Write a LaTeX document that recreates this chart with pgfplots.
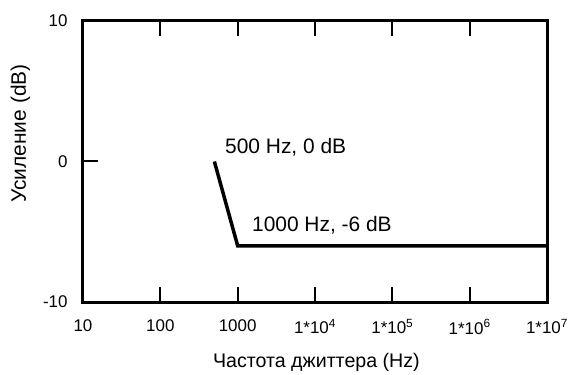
\documentclass[border=0pt]{standalone}
\usepackage{fontspec}
\setmainfont{Liberation Sans}
\usepackage{pgfplots}
\pgfplotsset{compat=1.18}
\begin{document}
\begin{tikzpicture}
\path[use as bounding box] (-83bp,-73bp) rectangle (490bp,302bp);
\begin{axis}[
  at={(0,0)}, anchor=south west,
  scale only axis, width=464bp, height=281bp,
  xmode=log, xmin=10, xmax=1e7, ymin=-10, ymax=10,
  axis line style={line width=3bp},
  xtick={10,100,1000,1e4,1e5,1e6,1e7},
  xticklabels={10,100,1000,1*10\textsuperscript{4},1*10\textsuperscript{5},1*10\textsuperscript{6},1*10\textsuperscript{7}},
  ytick={-10,0,10}, yticklabels={-10,0,10},
  xminorticks=false, yminorticks=false,
  xtick pos=both, ytick pos=left,
  tick align=inside,
  major tick length=15bp,
  every tick/.style={line width=2bp, black},
  xticklabel style={font=\fontsize{17}{18}\selectfont, yshift=-14bp},
  yticklabel style={font=\fontsize{17}{18}\selectfont, xshift=-12bp},
  xlabel={Частота джиттера (Hz)},
  ylabel={Усиление (dB)},
  every axis x label/.style={at={(axis description cs:0.503,-0.215)}, anchor=center, font=\fontsize{19.7}{21}\selectfont},
  every axis y label/.style={at={(axis description cs:-0.135,0.6)}, rotate=90, anchor=center, font=\fontsize{21}{22}\selectfont},
  clip=false,
]
\addplot[black, line width=3.5bp] coordinates {(500,0) (1000,-6) (1e7,-6)};
\node[anchor=base west, inner sep=0, font=\fontsize{21}{22}\selectfont] at (axis cs:686,0.6) {500 Hz, 0 dB};
\node[anchor=base west, inner sep=0, font=\fontsize{21}{22}\selectfont] at (axis cs:1531,-5.0) {1000 Hz, -6 dB};
\end{axis}
\end{tikzpicture}
\end{document}
